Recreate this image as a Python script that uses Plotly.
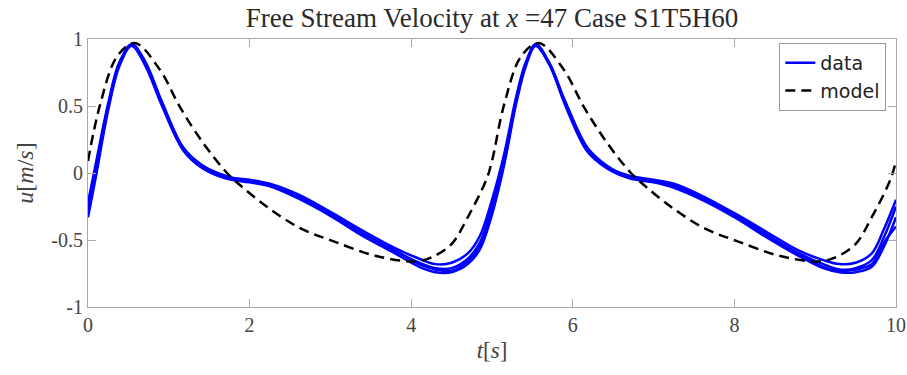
import plotly.graph_objects as go

# Sample times (s) for the measured runs
t_data = [0.00, 0.10, 0.25, 0.39, 0.54, 0.71, 0.91, 1.18, 1.41, 1.70, 2.00, 2.25, 2.60, 3.00,
          3.40, 3.80, 4.10, 4.30, 4.50, 4.70, 4.85, 5.00, 5.15, 5.30, 5.42, 5.54, 5.71, 5.91,
          6.18, 6.41, 6.70, 7.00, 7.25, 7.60, 8.00, 8.40, 8.80, 9.10, 9.30, 9.50, 9.70, 9.85, 10.00]

# Measured free-stream velocity (m/s), several repeated runs
u_run1 = [-0.28, 0.03, 0.50, 0.82, 0.96, 0.82, 0.53, 0.18, 0.05, -0.03, -0.06, -0.09, -0.17, -0.30,
          -0.45, -0.58, -0.67, -0.71, -0.71, -0.64, -0.52, -0.25, 0.10, 0.55, 0.82, 0.96, 0.82, 0.52,
          0.18, 0.05, -0.03, -0.06, -0.09, -0.18, -0.31, -0.46, -0.60, -0.68, -0.72, -0.71, -0.65, -0.48, -0.25]
u_run2 = [-0.22, 0.08, 0.52, 0.83, 0.95, 0.81, 0.52, 0.17, 0.04, -0.03, -0.05, -0.08, -0.16, -0.29,
          -0.43, -0.56, -0.64, -0.68, -0.67, -0.60, -0.47, -0.20, 0.14, 0.57, 0.83, 0.95, 0.81, 0.51,
          0.17, 0.05, -0.02, -0.05, -0.08, -0.17, -0.30, -0.44, -0.58, -0.65, -0.68, -0.67, -0.60, -0.42, -0.20]
u_run3 = [-0.33, -0.02, 0.47, 0.80, 0.95, 0.80, 0.51, 0.17, 0.04, -0.04, -0.07, -0.10, -0.19, -0.32,
          -0.47, -0.60, -0.70, -0.74, -0.74, -0.68, -0.57, -0.31, 0.06, 0.52, 0.80, 0.95, 0.81, 0.50,
          0.16, 0.04, -0.04, -0.07, -0.11, -0.20, -0.33, -0.48, -0.62, -0.71, -0.74, -0.74, -0.70, -0.55, -0.33]
u_run4 = [-0.30, 0.01, 0.49, 0.81, 0.96, 0.83, 0.54, 0.19, 0.06, -0.02, -0.06, -0.09, -0.18, -0.31,
          -0.45, -0.58, -0.68, -0.72, -0.73, -0.66, -0.54, -0.28, 0.08, 0.54, 0.81, 0.96, 0.82, 0.53,
          0.19, 0.06, -0.03, -0.06, -0.10, -0.19, -0.32, -0.47, -0.61, -0.70, -0.73, -0.72, -0.68, -0.52, -0.40]

# Model prediction
t_model = [0.00, 0.15, 0.36, 0.58, 0.89, 1.14, 1.43, 1.72, 1.90, 2.21, 2.62, 3.04, 3.57, 4.05, 4.25,
           4.50, 4.70, 4.93, 5.00, 5.15, 5.36, 5.58, 5.89, 6.14, 6.43, 6.72, 6.90, 7.21, 7.62, 8.04,
           8.57, 9.05, 9.25, 9.50, 9.70, 9.93, 10.00]
u_model = [0.09, 0.51, 0.87, 0.97, 0.77, 0.49, 0.22, 0.00, -0.10, -0.25, -0.41, -0.51, -0.62, -0.66, -0.63,
           -0.53, -0.33, -0.05, 0.09, 0.51, 0.87, 0.97, 0.77, 0.49, 0.22, 0.00, -0.10, -0.25, -0.41, -0.51,
           -0.62, -0.66, -0.63, -0.53, -0.33, -0.05, 0.09]

x_ticks = [0, 2, 4, 6, 8, 10]
x_ticklabels = ["0", "2", "4", "6", "8", "10"]
y_ticks = [-1, -0.5, 0, 0.5, 1]
y_ticklabels = ["-1", "-0.5", "0", "0.5", "1"]

serif = "Liberation Serif"
axis_grey = "#a8a8a8"
text_grey = "#444444"

fig = go.Figure()

for i, u in enumerate([u_run1, u_run2, u_run3, u_run4]):
    fig.add_trace(go.Scatter(
        x=t_data, y=u, mode="lines", name="data", legendgroup="data",
        showlegend=(i == 0),
        line=dict(color="#0000ff", width=2.5, shape="spline", smoothing=1),
    ))

fig.add_trace(go.Scatter(
    x=t_model, y=u_model, mode="lines", name="model",
    line=dict(color="#000000", width=2.5, dash="10px,6px", shape="spline", smoothing=1),
))

axis_common = dict(
    showline=True, linecolor=axis_grey, linewidth=1, mirror="ticks",
    ticks="inside", ticklen=8, tickcolor=axis_grey, tickwidth=1,
    showgrid=False, zeroline=False, automargin=False,
    tickfont=dict(family=serif, size=20, color=text_grey),
)

fig.update_xaxes(range=[0, 10], tickvals=x_ticks, ticktext=x_ticklabels,
                 title=dict(text="<i>t</i>[<i>s</i>]", font=dict(family=serif, size=23, color=text_grey),
                            standoff=6),
                 **axis_common)
fig.update_yaxes(range=[-1, 1], tickvals=y_ticks, ticktext=y_ticklabels,
                 title=dict(text="<i>u</i>[<i>m</i>/<i>s</i>]", font=dict(family=serif, size=24, color=text_grey),
                            standoff=10),
                 **axis_common)

fig.update_layout(
    width=907, height=375,
    margin=dict(l=88, r=11, t=39, b=68),
    paper_bgcolor="white", plot_bgcolor="white",
    title=dict(text="Free Stream Velocity at <i>x</i> =47 Case S1T5H60",
               font=dict(family=serif, size=27, color="#2a2a2a"),
               x=0.5, xref="paper", xanchor="center", y=0.952, yanchor="middle"),
    legend=dict(x=0.988, y=0.985, xanchor="right", yanchor="top",
                bgcolor="white", bordercolor="#999999", borderwidth=1,
                font=dict(family="DejaVu Sans", size=19, color="#222222"),
                itemwidth=30, tracegroupgap=0),
    showlegend=True,
)

fig.write_html("out.html")
